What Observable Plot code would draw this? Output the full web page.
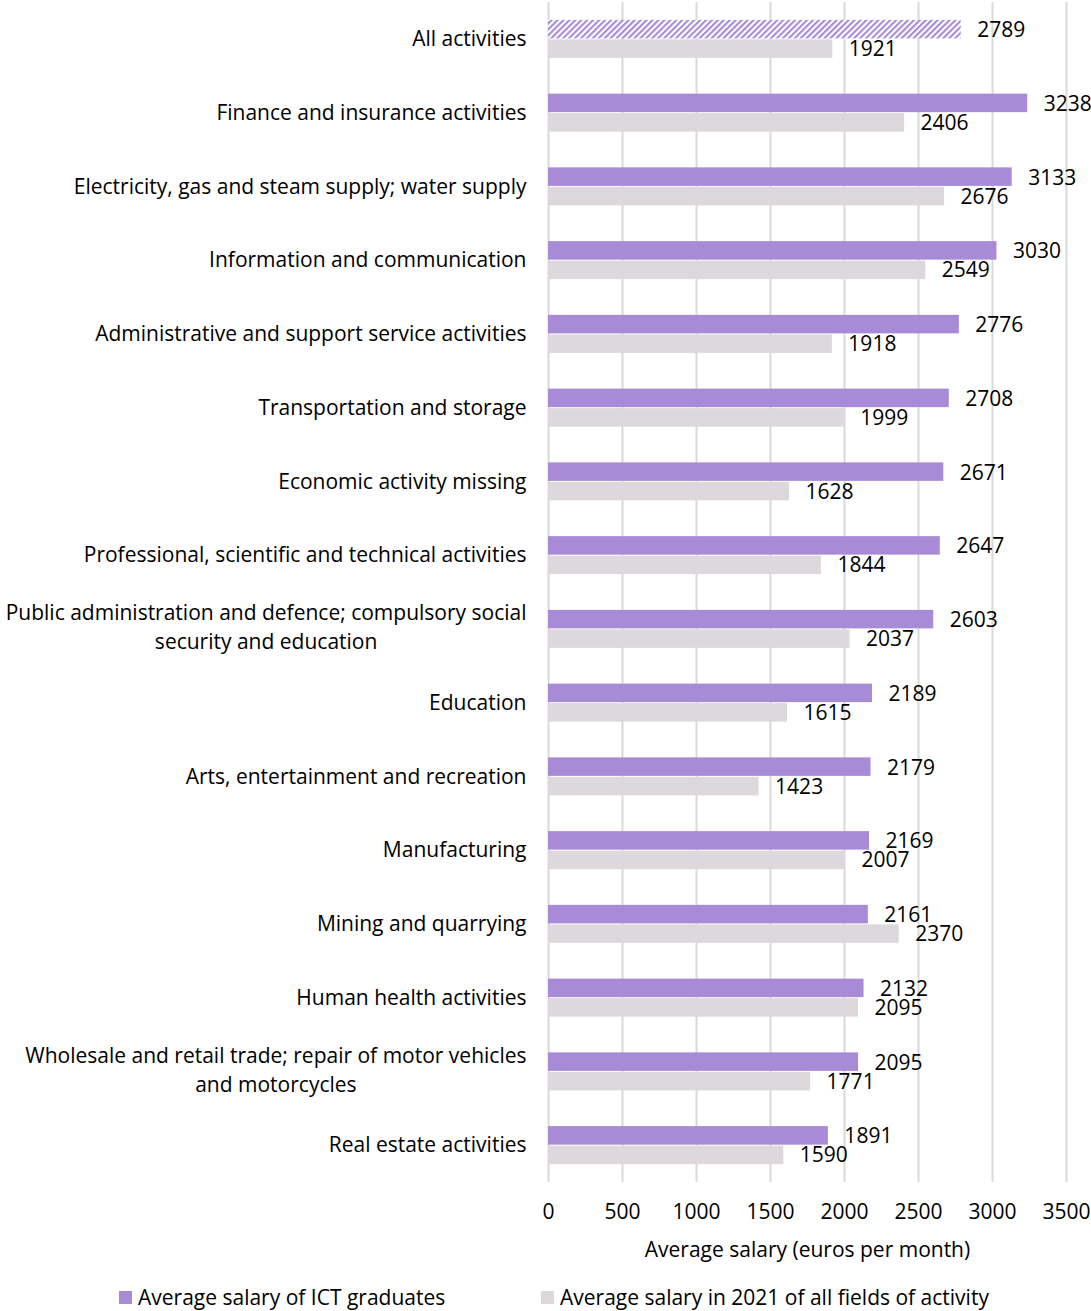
<!DOCTYPE html>
<html>
<head>
<meta charset="utf-8">
<script src="https://cdn.jsdelivr.net/npm/d3@7"></script>
<script src="https://cdn.jsdelivr.net/npm/@observablehq/plot@0.6"></script>
<style>
  body { margin: 0; background: #fff; }
  #wrap { position: relative; width: 1091px; height: 1311px; font-family: "Open Sans", sans-serif; }
  .leg { position: absolute; top: 1283px; font-size: 21px; color: #000; display: flex; align-items: center; white-space: nowrap; }
  .sw { width: 13px; height: 13px; display: inline-block; margin-right: 6px; }
</style>
</head>
<body>
<div id="wrap"></div>
<script>
const categories = [
  "All activities",
  "Finance and insurance activities",
  "Electricity, gas and steam supply; water supply",
  "Information and communication",
  "Administrative and support service activities",
  "Transportation and storage",
  "Economic activity missing",
  "Professional, scientific and technical activities",
  "Public administration and defence; compulsory social\nsecurity and education",
  "Education",
  "Arts, entertainment and recreation",
  "Manufacturing",
  "Mining and quarrying",
  "Human health activities",
  "Wholesale and retail trade; repair of motor vehicles\nand motorcycles",
  "Real estate activities"
];
const ictSalary = [2789, 3238, 3133, 3030, 2776, 2708, 2671, 2647, 2603, 2189, 2179, 2169, 2161, 2132, 2095, 1891];
const allSalary = [1921, 2406, 2676, 2549, 1918, 1999, 1628, 1844, 2037, 1615, 1423, 2007, 2370, 2095, 1771, 1590];
const xTicks = [0, 500, 1000, 1500, 2000, 2500, 3000, 3500];
const seriesNames = ["Average salary of ICT graduates", "Average salary in 2021 of all fields of activity"];
const xLabel = "Average salary (euros per month)";

const PURPLE = "#a78bd6";
const GRAY = "#dcd8db";
const FONT = "'Open Sans', sans-serif";
const FS = 21;

const rows = categories.map((c, i) => ({cat: c, ict: ictSalary[i], all: allSalary[i]}));
const single = rows.filter(d => !d.cat.includes("\n"));
const multi = rows.filter(d => d.cat.includes("\n"));

const ctx = document.createElement("canvas").getContext("2d");
ctx.font = `${FS}px ${FONT}`;

const band = (1182 - 2) / 16;
const half = band / 2;
const barH = 19;

const multiMarks = multi.map(d => {
  const w = Math.max(...d.cat.split("\n").map(s => ctx.measureText(s).width));
  return Plot.text([d], {y: "cat", text: "cat", frameAnchor: "left", textAnchor: "middle",
    dx: -22 - w / 2, dy: -4, lineAnchor: "middle", lineHeight: 1.38, fontSize: FS, fill: "#000"});
});

const chart = Plot.plot({
  width: 1091,
  height: 1272,
  marginLeft: 548,
  marginRight: 25,
  marginTop: 2,
  marginBottom: 90,
  style: {fontFamily: FONT, fontSize: FS + "px", color: "#000", background: "#fff"},
  x: {domain: [0, 3500], label: null},
  y: {domain: categories, padding: 0, round: false, axis: null},
  marks: [
    Plot.gridX(xTicks, {stroke: "#d9d9d9", strokeOpacity: 1, strokeWidth: 2}),
    Plot.barX(rows.slice(1), {x: "ict", y: "cat", fill: PURPLE, insetTop: half - barH, insetBottom: half + 0.5}),
    Plot.barX(rows.slice(0, 1), {x: "ict", y: "cat", fill: "url(#hatch)", insetTop: half - barH, insetBottom: half + 0.5}),
    Plot.barX(rows, {x: "all", y: "cat", fill: GRAY, insetTop: half + 0.5, insetBottom: half - barH}),
    Plot.text(rows, {x: "ict", y: "cat", text: d => String(d.ict), dx: 16, dy: -9, textAnchor: "start", fontSize: FS, fill: "#000"}),
    Plot.text(rows, {x: "all", y: "cat", text: d => String(d.all), dx: 16, dy: 10, textAnchor: "start", fontSize: FS, fill: "#000"}),
    Plot.text(single, {y: "cat", text: "cat", frameAnchor: "left", textAnchor: "end", dx: -22, fontSize: FS, fill: "#000"}),
    ...multiMarks,
    Plot.axisX({ticks: xTicks, tickSize: 0, tickPadding: 22, fontSize: FS, label: null, tickFormat: d => String(d)}),
    Plot.text([xLabel], {text: d => d, frameAnchor: "bottom", dy: 74, fontSize: FS, fill: "#000"})
  ]
});

const ns = "http://www.w3.org/2000/svg";
const defs = document.createElementNS(ns, "defs");
defs.innerHTML = `<pattern id="hatch" patternUnits="userSpaceOnUse" width="4.2" height="4.2" patternTransform="rotate(45)">
  <rect width="4.2" height="4.2" fill="#ffffff"></rect>
  <rect width="2.1" height="4.2" fill="${PURPLE}"></rect>
</pattern>`;
chart.insertBefore(defs, chart.firstChild);

const wrap = document.getElementById("wrap");
wrap.appendChild(chart);

const leg1 = document.createElement("div");
leg1.className = "leg";
leg1.style.left = "119px";
leg1.innerHTML = `<span class="sw" style="background:${PURPLE}"></span>${seriesNames[0]}`;
const leg2 = document.createElement("div");
leg2.className = "leg";
leg2.style.left = "541px";
leg2.innerHTML = `<span class="sw" style="background:${GRAY}"></span>${seriesNames[1]}`;
wrap.appendChild(leg1);
wrap.appendChild(leg2);
</script>
</body>
</html>
